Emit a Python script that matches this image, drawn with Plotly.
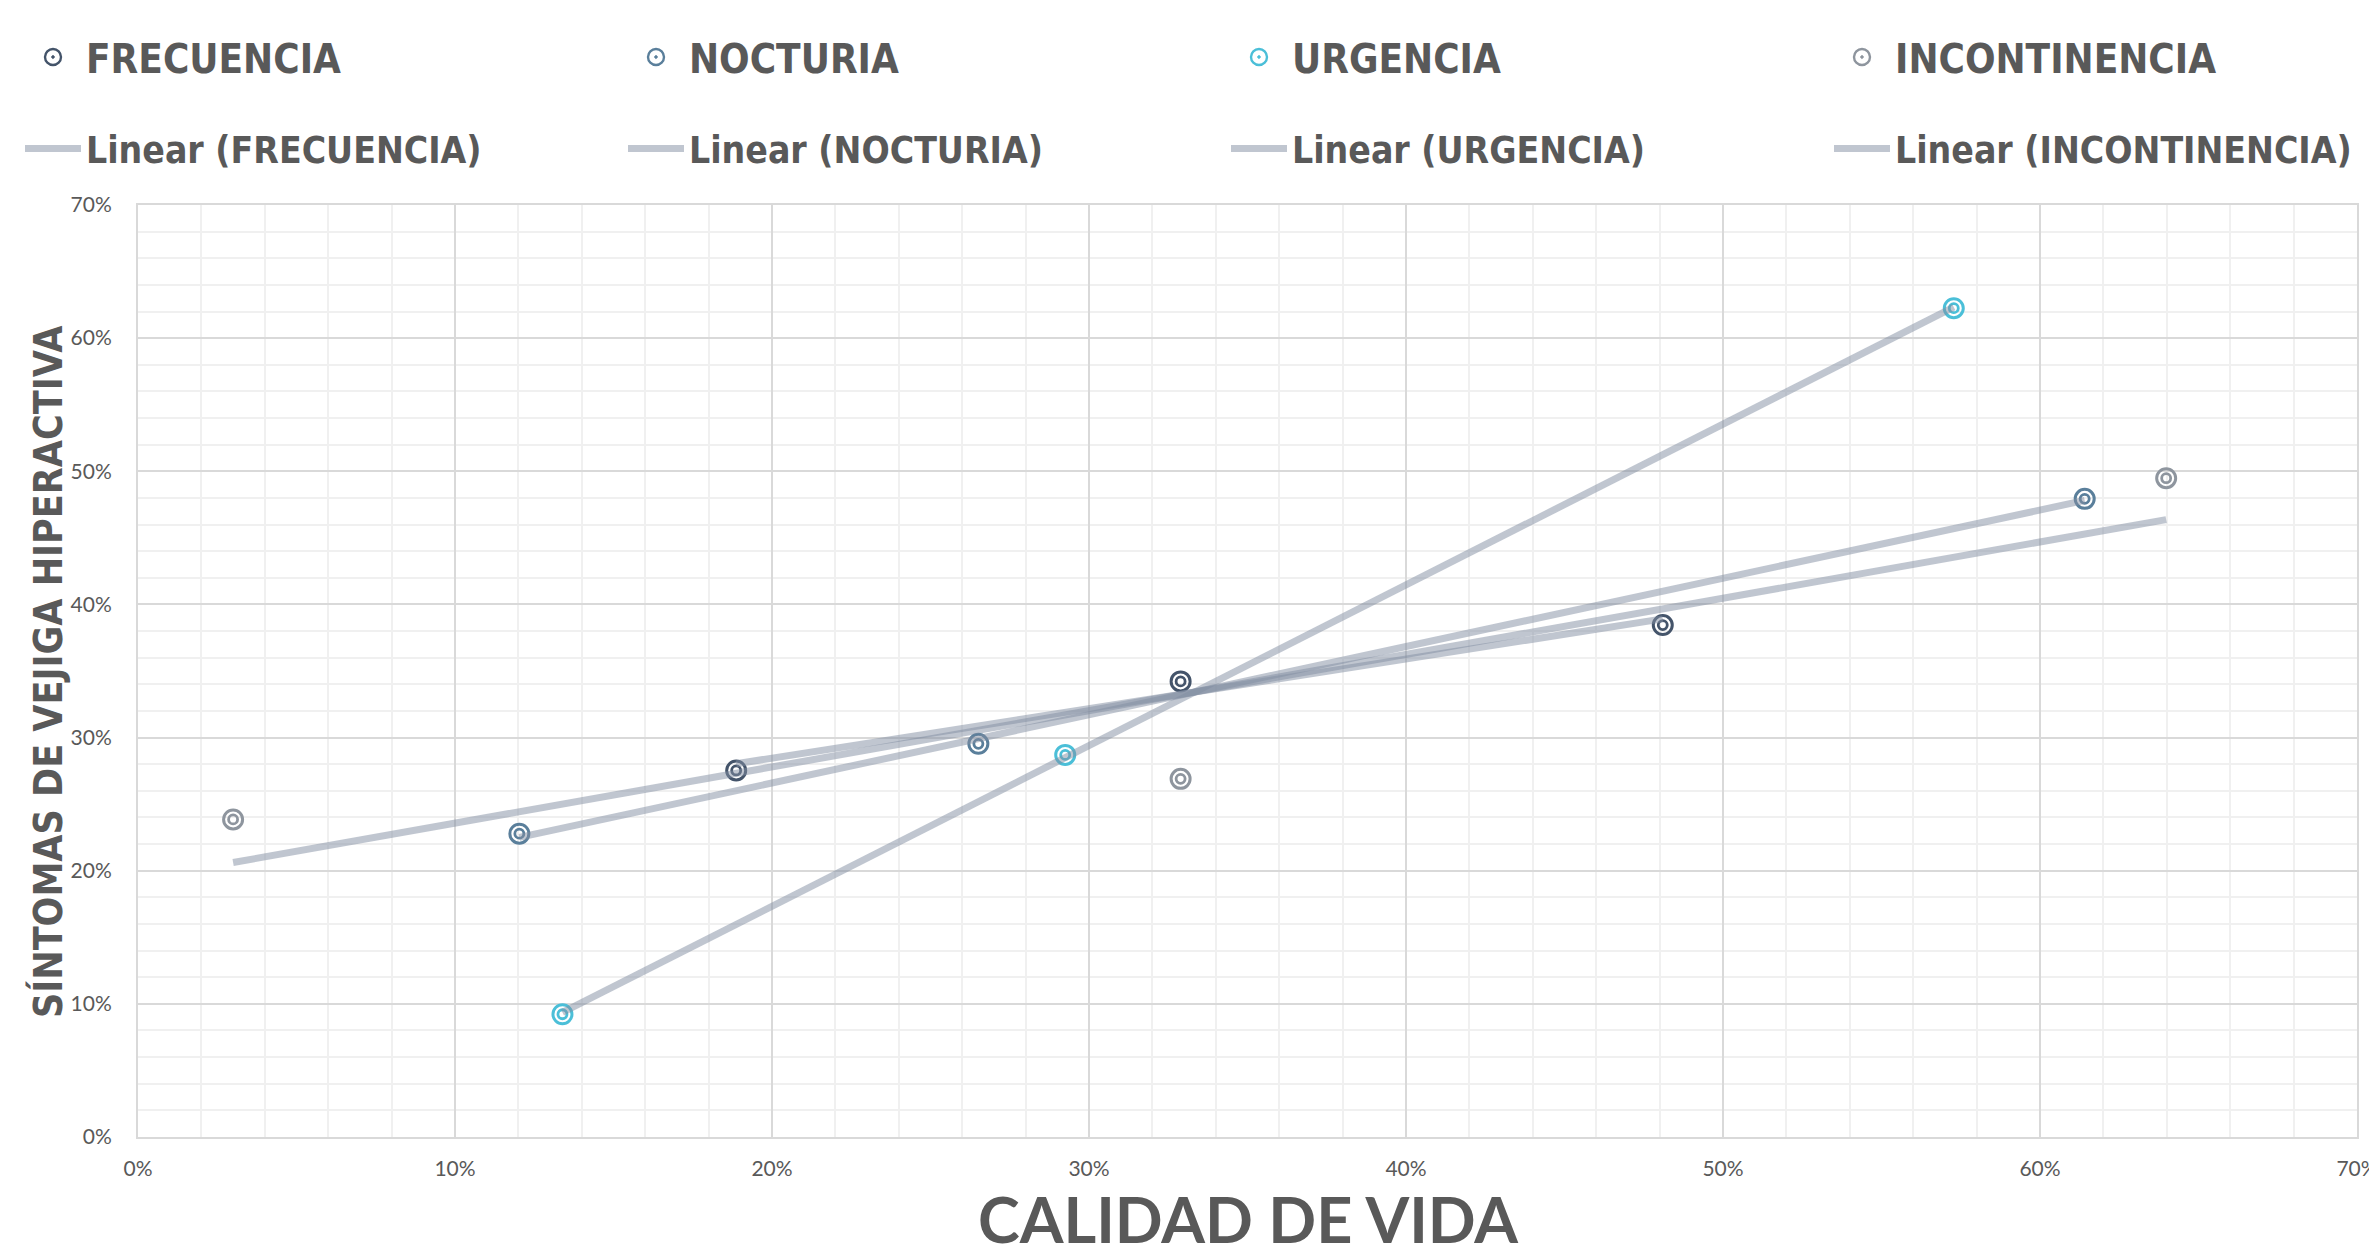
import numpy as np
import plotly.graph_objects as go

# ---- data (fractions) ----
series_names = ["FRECUENCIA", "NOCTURIA", "URGENCIA", "INCONTINENCIA"]
frecuencia_x = [0.1887, 0.3289, 0.4810]
frecuencia_y = [0.2753, 0.3422, 0.3845]
nocturia_x = [0.1203, 0.2651, 0.6141]
nocturia_y = [0.2278, 0.2953, 0.4793]
urgencia_x = [0.1339, 0.2925, 0.5728]
urgencia_y = [0.0922, 0.2870, 0.6225]
incontinencia_x = [0.0300, 0.3289, 0.6398]
incontinencia_y = [0.2385, 0.2690, 0.4948]
x_ticks = [0, 0.1, 0.2, 0.3, 0.4, 0.5, 0.6, 0.7]
y_ticks = [0, 0.1, 0.2, 0.3, 0.4, 0.5, 0.6, 0.7]

series_x = [frecuencia_x, nocturia_x, urgencia_x, incontinencia_x]
series_y = [frecuencia_y, nocturia_y, urgencia_y, incontinencia_y]
colors = ["#44546A", "#5A7F9B", "#4BBFD8", "#8E959E"]
trend_color = "rgba(130,142,162,0.5)"

# page has an 8px body margin; work in page pixels and convert
OFF = 8
W, H = 2377 - OFF, 1257 - OFF
PL, PR, PT, PB = 138, 2357, 205, 1137   # plot area in page pixels
L, T = PL - OFF, PT - OFF
R = W - (PR - OFF)
B = H - (PB - OFF)
pw, ph = PR - PL, PB - PT

def px2paper_x(p):
    return (p - PL) / pw

def px2paper_y(p):
    return (PB - p) / ph

cond_family = "DejaVu Sans Condensed, Liberation Sans Narrow, DejaVu Sans"

fig = go.Figure()

legend_ids = ["legend", "legend2", "legend3", "legend4", "legend5", "legend6", "legend7", "legend8"]

# markers: outer ring and inner ring (double-ring look); legend entry via a marker-only key
for i, name in enumerate(series_names):
    fig.add_trace(go.Scatter(
        x=series_x[i], y=series_y[i], mode="markers", name=name, showlegend=False,
        marker=dict(symbol="circle-open", size=19, color=colors[i], line=dict(width=3, color=colors[i])),
    ))
    fig.add_trace(go.Scatter(
        x=series_x[i], y=series_y[i], mode="markers", name=name, showlegend=False,
        marker=dict(symbol="circle-open", size=9, color=colors[i], line=dict(width=2.8, color=colors[i])),
    ))
    fig.add_trace(go.Scatter(
        x=[None], y=[None], mode="markers", name=name, legend=legend_ids[i], showlegend=True,
        marker=dict(symbol="circle-open-dot", size=16, color=colors[i], line=dict(width=2.4, color=colors[i])),
    ))

# linear trendlines (least squares, like Excel)
for i, name in enumerate(series_names):
    xs = np.array(series_x[i])
    ys = np.array(series_y[i])
    m, c = np.polyfit(xs, ys, 1)
    xl = np.array([xs.min(), xs.max()])
    fig.add_trace(go.Scatter(
        x=xl, y=m * xl + c, mode="lines", name=f"Linear ({name})",
        legend=legend_ids[4 + i],
        line=dict(color=trend_color, width=7),
    ))

col_step = 603
layout_legends = {}
for k in range(8):
    row = k // 4
    col = k % 4
    left_px = 20 + col * col_step
    cy = 57 if row == 0 else 149
    layout_legends[legend_ids[k]] = dict(
        x=px2paper_x(left_px), xanchor="left",
        y=px2paper_y(cy), yanchor="middle",
        orientation="h",
        font=dict(family=cond_family, size=40 if row == 0 else 37, color="#595959", weight="bold"),
        itemwidth=56,
        bgcolor="rgba(0,0,0,0)", borderwidth=0,
    )

tick_font = dict(family="Lato, Open Sans, sans-serif", size=21, color="#595959")

fig.update_layout(
    width=W, height=H,
    margin=dict(l=L, r=R, t=T, b=B, autoexpand=False),
    paper_bgcolor="white", plot_bgcolor="white",
    showlegend=True,
    **layout_legends,
    xaxis=dict(
        range=[0, 0.7], tickvals=x_ticks, tickformat=".0%", tickfont=tick_font,
        showgrid=True, gridcolor="#D9D9D9", gridwidth=1.5,
        minor=dict(dtick=0.02, showgrid=True, gridcolor="#F0F0F0", gridwidth=1.5),
        showline=True, linecolor="#D9D9D9", linewidth=2, mirror=True,
        zeroline=False, ticks="", ticklabelstandoff=12, ticklabeloverflow="allow",
    ),
    yaxis=dict(
        range=[0, 0.7], tickvals=y_ticks, tickformat=".0%", tickfont=tick_font,
        showgrid=True, gridcolor="#D9D9D9", gridwidth=1.5,
        minor=dict(dtick=0.02, showgrid=True, gridcolor="#F0F0F0", gridwidth=1.5),
        showline=True, linecolor="#D9D9D9", linewidth=2, mirror=True,
        zeroline=False, ticks="", ticklabelstandoff=20, ticklabeloverflow="allow",
    ),
    annotations=[
        dict(text="SÍNTOMAS DE VEJIGA HIPERACTIVA", textangle=-90,
             x=px2paper_x(48), y=px2paper_y(672), xref="paper", yref="paper",
             xanchor="center", yanchor="middle", showarrow=False,
             font=dict(family=cond_family, size=39, color="#595959", weight="bold")),
        dict(text="CALIDAD DE VIDA",
             x=px2paper_x(1249), y=px2paper_y(1218), xref="paper", yref="paper",
             xanchor="center", yanchor="middle", showarrow=False,
             font=dict(family="Lato, Open Sans, sans-serif", size=63, color="#595959", weight="bold")),
    ],
)

fig.write_html("out.html")
